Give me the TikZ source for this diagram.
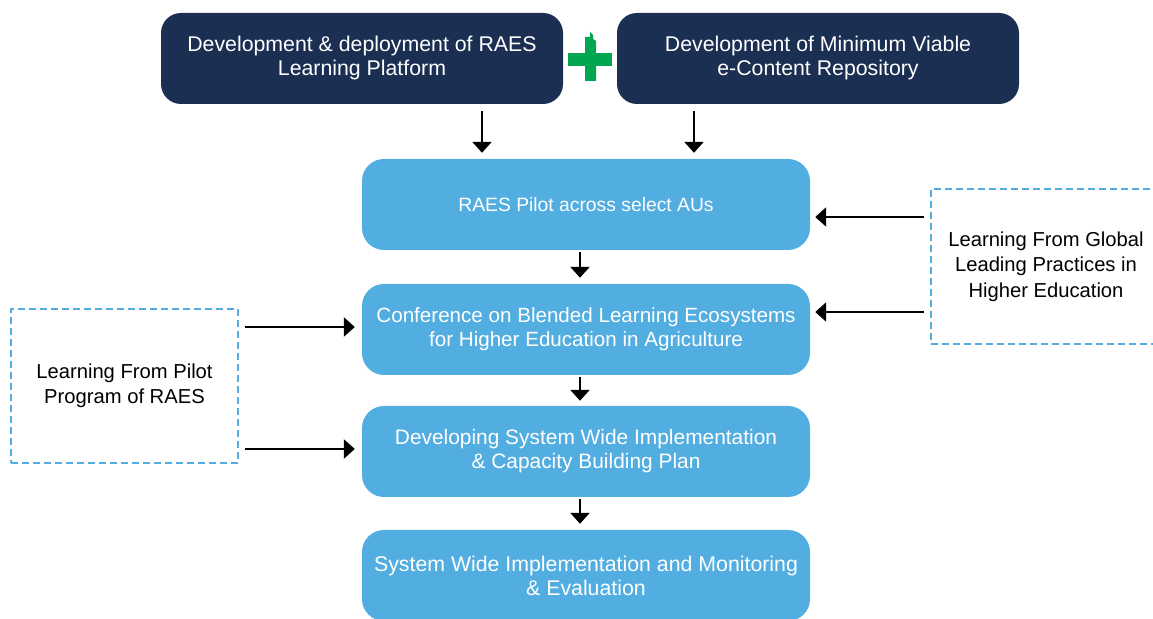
\documentclass[tikz,border=0pt]{standalone}
\usepackage{fontspec}
\setmainfont{Liberation Sans}
\usetikzlibrary{arrows.meta,calc}
\definecolor{navy}{HTML}{1B2F52}
\definecolor{skyb}{HTML}{52ADE0}
\definecolor{plusg}{HTML}{00A651}
\tikzset{
  topbox/.style={fill=navy, text=white, rounded corners=20pt, minimum width=402pt, minimum height=91pt, align=center, inner sep=0pt, font=\fontsize{21.3}{24}\selectfont},
  bluebox/.style={fill=skyb, text=white, rounded corners=22pt, minimum width=448pt, minimum height=91pt, align=center, inner sep=0pt, font=\fontsize{21.3}{24}\selectfont},
  dashbox/.style={draw=skyb, dashed, dash pattern=on 7pt off 4pt, line width=1.4pt, minimum width=227pt, minimum height=154pt, align=center, inner sep=0pt, font=\fontsize{20.2}{25.5}\selectfont},
  arr/.style={line width=2.6pt, -{Triangle[width=19pt,length=11pt]}}
}
\begin{document}
\begin{tikzpicture}[x=1pt,y=1pt]
\useasboundingbox (0,0) rectangle (1153,618);
\clip (0,0) rectangle (1153,618);
% top boxes
\node[topbox] (t1) at (362,559.5) {Development \& deployment of RAES\\Learning Platform};
\node[topbox] (t2) at (818,559.5) {Development of Minimum Viable\\e-Content Repository};
% plus sign
\fill[plusg] (568,552) rectangle (612,565);
\fill[plusg] (585,537) -- (596,537) -- (596,577) -- (593,579) -- (593,583) -- (590,586) -- (590,581) -- (585,581) -- cycle;
% blue boxes
\node[bluebox, font=\fontsize{19.3}{24}\selectfont] (b1) at (586,413.5) {RAES Pilot across select AUs};
\node[bluebox, font=\fontsize{20.6}{24}\selectfont] (b2) at (586,288.5) {Conference on Blended Learning Ecosystems\\for Higher Education in Agriculture};
\node[bluebox, font=\fontsize{20.9}{24}\selectfont] (b3) at (586,166.5) {Developing System Wide Implementation\\\& Capacity Building Plan};
\node[bluebox] (b4) at (586,42.5) {System Wide Implementation and Monitoring\\\& Evaluation};
% dashed boxes
\node[dashbox, minimum width=230pt, minimum height=155pt] (g) at (1046,351.5) {Learning From Global\\Leading Practices in\\Higher Education};
\node[dashbox] (l) at (124.5,232) {Learning From Pilot\\Program of RAES};
% top arrows
\coordinate (a1) at ([xshift=120pt]t1.south);
\coordinate (a2) at ([xshift=-124pt]t2.south);
\draw[arr, shorten <=7pt, shorten >=6pt] (a1) -- (a1 |- b1.north);
\draw[arr, shorten <=7pt, shorten >=6pt] (a2) -- (a2 |- b1.north);
% vertical chain
\draw[arr, shorten <=2pt, shorten >=6pt] ([xshift=-6pt]b1.south) -- ([xshift=-6pt]b2.north);
\draw[arr, shorten <=2pt, shorten >=5pt] ([xshift=-6pt]b2.south) -- ([xshift=-6pt]b3.north);
\draw[arr, shorten <=2pt, shorten >=6pt] ([xshift=-6pt]b3.south) -- ([xshift=-6pt]b4.north);
% right arrows
\coordinate (r1) at ([yshift=-12.5pt]b1.east);
\coordinate (r2) at ([yshift=17.5pt]b2.east);
\draw[arr, shorten <=6pt, shorten >=5pt] (r1 -| g.west) -- (r1);
\draw[arr, shorten <=6pt, shorten >=5pt] (r2 -| g.west) -- (r2);
% left arrows
\coordinate (q1) at ([yshift=2.5pt]b2.west);
\coordinate (q2) at ([yshift=2.5pt]b3.west);
\draw[arr, shorten <=6pt, shorten >=7pt] (q1 -| l.east) -- (q1);
\draw[arr, shorten <=6pt, shorten >=7pt] (q2 -| l.east) -- (q2);
\end{tikzpicture}
\end{document}
